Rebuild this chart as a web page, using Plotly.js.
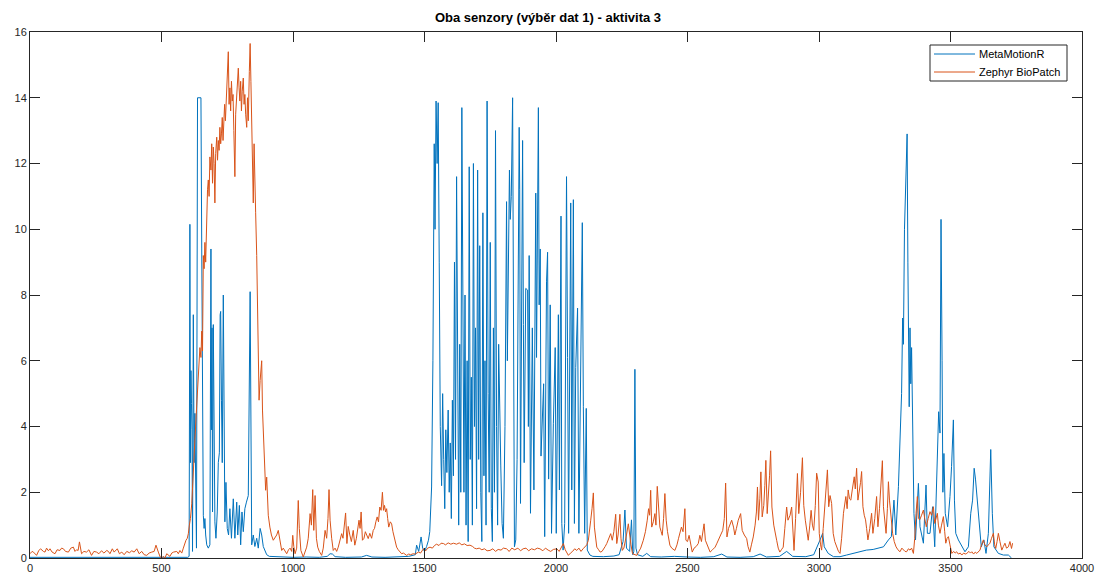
<!DOCTYPE html>
<html>
<head>
<meta charset="utf-8">
<script src="https://cdn.plot.ly/plotly-3.0.1.min.js"></script>
<style>html,body{margin:0;padding:0;background:#fff;}#chart{width:1096px;height:578px;}</style>
</head>
<body>
<div id="chart"></div>
<script>
const seriesNames = ["MetaMotionR", "Zephyr BioPatch"];
const xTicks = [0, 500, 1000, 1500, 2000, 2500, 3000, 3500, 4000];
const yTicks = [0, 2, 4, 6, 8, 10, 12, 14, 16];

// MetaMotionR readings [sample, value]
const metaMotion = [
[0,0.02],[100,0.02],[200,0.03],[300,0.02],[400,0.02],[500,0.03],[600,0.02],[605,0.05],
[608,10.15],[610,2.9],[612,5.7],[614,4.7],[616,3.9],[618,0.2],[621,7.4],[624,2.9],[627,4.4],[630,2.5],[633,0.3],[637,14.0],[650,14.0],[653,9.4],[656,4.1],[659,1.3],[662,0.9],[665,1.2],[668,0.7],[672,0.4],[678,0.3],[684,0.4],[688,9.4],[690,3.9],[692,7.0],[694,1.4],[697,7.1],[700,1.9],[703,1.1],[707,0.6],[712,1.4],[716,2.9],[720,3.2],[723,7.4],[725,7.5],[728,4.8],[731,2.9],[735,8.0],[738,2.4],[741,1.1],[745,2.3],[750,0.9],[755,0.7],[760,1.5],[766,0.6],[773,1.8],[779,0.6],[786,1.7],[790,0.7],[796,1.6],[801,0.4],[806,1.4],[811,0.8],[817,1.5],[823,1.7],[830,1.9],[837,8.1],[840,0.9],[843,0.4],[849,0.7],[855,0.35],[862,0.6],[868,0.3],[875,0.9],[881,0.7],[887,0.35],[893,0.2],[900,0.1],[910,0.05],[950,0.03],[1000,0.02],[1050,0.03],[1100,0.02],[1130,0.05],[1141,0.13],[1150,0.12],[1160,0.04],[1200,0.02],[1260,0.03],[1280,0.08],[1300,0.03],[1350,0.02],[1400,0.04],[1440,0.05],[1465,0.1],[1470,0.39],[1478,0.2],[1487,0.64],[1493,0.3],[1500,0.2],[1508,0.35],[1515,0.54],[1520,0.8],[1527,2.16],
[1532,6.0],[1537,12.6],[1540,10.0],[1544,13.9],[1548,12.0],[1552,13.85],[1556,9.0],[1560,4.0],[1565,2.2],[1569,5.0],[1573,3.0],[1577,1.5],[1581,3.9],[1585,2.6],[1590,4.5],[1594,2.0],[1598,3.5],[1602,1.2],[1606,4.8],[1610,2.5],[1614,9.0],[1618,3.0],[1622,11.6],[1626,4.0],[1630,1.0],[1634,6.5],[1638,2.0],[1642,13.7],[1646,5.0],[1650,2.0],[1654,8.0],[1658,1.0],[1662,6.0],[1666,0.5],[1670,11.9],[1674,3.0],[1678,5.5],[1682,1.0],[1686,12.0],[1690,4.0],[1694,7.0],[1698,1.5],[1702,11.8],[1706,3.0],[1710,9.5],[1714,2.0],[1718,0.5],[1722,10.5],[1726,2.5],[1730,6.0],[1734,1.0],[1738,13.9],[1742,5.0],[1746,2.0],[1750,9.6],[1754,1.5],[1758,0.5],[1762,7.0],[1766,2.0],[1770,13.0],[1774,4.0],[1778,1.0],[1782,6.5],[1787,3.5],[1790,2.8],[1795,1.05],
[1800,0.6],[1806,4.0],[1812,10.84],[1815,6.0],[1818,8.0],[1823,11.8],[1826,10.3],[1830,11.0],[1835,14.0],[1838,7.1],[1842,0.34],[1847,0.55],[1852,3.0],[1860,13.1],[1862,11.2],[1865,1.66],[1873,12.7],[1876,7.1],[1879,2.9],[1885,8.2],[1892,8.15],[1895,4.0],[1898,9.2],[1903,1.36],[1910,7.0],[1916,2.07],[1923,11.1],[1926,6.1],[1933,13.7],[1936,7.7],[1940,9.4],[1943,3.1],[1949,4.55],[1953,5.3],[1957,0.65],[1964,8.4],[1968,9.3],[1972,2.4],[1978,7.7],[1983,0.75],[1990,4.1],[1997,6.4],[2001,0.75],[2009,7.4],[2013,2.07],[2019,10.4],[2022,1.05],[2027,0.24],[2033,1.05],[2040,11.6],[2044,6.1],[2048,0.75],[2056,10.8],[2060,2.07],[2066,10.9],[2070,1.05],[2075,5.8],[2082,7.6],[2087,0.75],[2092,4.1],[2100,10.2],[2104,4.6],[2109,0.75],[2115,4.55],[2119,0.24],[2129,0.09],[2140,0.05],[2180,0.04],[2220,0.06],[2240,0.1],[2255,0.5],[2262,1.46],[2268,0.3],[2280,0.2],[2287,1.16],[2292,0.1],[2296,0.2],[2300,5.74],[2304,0.3],[2310,0.1],[2330,0.05],[2345,0.14],[2360,0.04],[2400,0.03],[2450,0.05],[2500,0.03],[2550,0.02],[2600,0.04],[2630,0.12],[2650,0.03],[2700,0.02],[2750,0.04],[2776,0.12],[2800,0.03],[2850,0.05],[2877,0.2],[2900,0.05],[2950,0.04],[2980,0.1],
[3004,0.55],[3014,0.75],[3020,0.34],[3035,0.14],[3055,0.04],[3080,0.04],[3105,0.09],[3130,0.14],[3156,0.19],[3180,0.24],[3206,0.26],[3225,0.29],[3245,0.34],[3264,0.55],[3275,0.65],[3285,1.76],[3292,0.7],[3302,2.17],[3308,3.39],[3314,5.0],[3318,7.3],[3321,6.5],[3325,10.0],[3330,12.0],[3335,12.9],[3338,9.0],[3340,6.2],[3343,4.6],[3346,7.0],[3349,5.3],[3352,6.4],[3356,4.0],[3361,1.36],[3367,0.55],[3378,2.27],[3384,0.95],[3397,0.45],[3407,2.22],[3412,0.75],[3422,0.75],[3432,1.56],[3440,0.34],[3450,3.08],[3455,4.45],[3460,3.8],[3464,10.3],[3468,6.0],[3471,2.0],[3475,3.18],[3480,1.36],[3489,0.95],[3498,1.87],[3504,2.78],[3511,4.2],[3515,1.76],[3520,0.75],[3530,0.55],[3543,0.34],[3555,0.19],[3568,0.34],[3577,1.36],[3584,1.76],[3590,2.73],[3595,2.4],[3602,1.76],[3609,0.95],[3617,0.34],[3627,0.55],[3635,0.14],[3644,0.75],[3653,3.3],[3659,1.36],[3665,0.34],[3682,0.14],[3701,0.09],[3720,0.09],[3732,0.0]
];

// Zephyr BioPatch readings [sample, value]
const zephyr = [
[0,0.13],[8,0.2],[13,0.18],[20,0.1],[25,0.08],[33,0.22],[40,0.28],[51,0.2],[57,0.18],[63,0.3],[70,0.22],[76,0.28],[84,0.18],[95,0.13],[103,0.25],[114,0.23],[120,0.3],[127,0.28],[135,0.2],[146,0.18],[155,0.3],[165,0.33],[171,0.2],[177,0.25],[183,0.23],[188,0.49],[192,0.3],[196,0.13],[205,0.2],[215,0.18],[224,0.25],[234,0.08],[243,0.2],[253,0.18],[262,0.13],[272,0.22],[281,0.15],[292,0.23],[298,0.2],[304,0.13],[313,0.28],[320,0.18],[332,0.28],[340,0.13],[349,0.18],[358,0.1],[368,0.2],[378,0.16],[387,0.22],[396,0.18],[406,0.28],[415,0.13],[425,0.2],[434,0.1],[444,0.08],[453,0.15],[463,0.18],[472,0.2],[479,0.39],[484,0.3],[488,0.18],[495,0.03],[501,0.0],[507,0.05],[513,0.0],[520,0.13],[526,0.1],[532,0.05],[539,0.15],[546,0.18],[558,0.2],[564,0.13],[570,0.23],[577,0.15],[583,0.3],[588,0.45],[593,0.54],[598,0.6],[602,0.74],
[606,1.0],[610,1.2],[615,1.65],[618,2.2],[621,2.9],[624,3.3],[627,3.6],[631,4.2],[634,4.7],[637,5.0],[640,5.5],[643,6.3],[646,6.4],[650,6.1],[653,6.9],[656,6.3],[659,9.2],[662,8.8],[665,9.6],[668,9.0],[672,10.8],[675,11.2],[678,11.5],[681,11.0],[684,12.2],[688,11.8],[691,12.6],[694,11.4],[697,12.5],[700,12.0],[703,10.8],[706,12.3],[710,12.8],[713,12.1],[716,12.7],[719,12.4],[722,13.1],[725,12.6],[728,12.9],[731,13.4],[734,12.7],[737,13.2],[740,13.8],[743,13.3],[746,13.9],[750,14.2],[754,15.4],[757,13.8],[760,14.3],[763,13.6],[766,14.5],[769,13.9],[772,14.1],[775,13.0],[779,11.6],[782,13.5],[785,14.0],[788,14.6],[792,14.9],[795,14.3],[798,13.9],[801,14.5],[804,13.6],[807,14.2],[811,14.6],[814,13.8],[817,14.1],[820,13.5],[824,13.1],[827,14.0],[830,13.3],[834,14.8],[837,15.65],[840,14.5],[843,13.5],[846,12.5],[849,10.8],[852,12.6],[855,11.0],[858,10.5],[862,9.2],[865,7.5],[868,5.9],[871,4.8],[875,5.4],[878,5.9],[881,6.0],[884,4.5],[887,3.98],[890,3.4],[893,2.5],[896,2.06],[900,2.46],[903,2.0],[906,1.3],[912,0.94],[918,0.7],[925,0.54],[931,0.62],[938,0.7],[944,0.84],[950,0.5],[957,0.23],[963,0.3],[970,0.2],[976,0.13],[983,0.25],[989,0.3],[995,0.2],[999,0.69],[1003,0.35],[1008,0.13],[1014,0.3],[1020,1.75],[1024,0.9],[1030,0.23],[1039,0.03],[1045,0.2],[1052,0.33],[1058,0.6],[1065,1.35],[1070,1.0],[1075,2.08],[1079,0.84],[1084,1.9],[1089,0.6],[1094,0.33],[1100,0.2],[1109,0.08],[1115,0.3],[1122,0.84],[1128,0.6],[1133,1.2],[1137,2.08],[1141,1.15],[1147,0.6],[1153,0.23],[1160,0.3],[1166,0.2],[1172,0.33],[1178,0.5],[1185,0.74],[1190,0.6],[1195,0.9],[1200,1.37],[1205,0.44],[1210,0.96],[1216,0.7],[1222,0.5],[1229,0.84],[1235,0.39],[1241,0.6],[1246,0.9],[1251,1.15],[1255,0.9],[1259,1.4],[1264,0.54],[1270,0.6],[1275,0.8],[1280,0.69],[1286,0.59],[1292,0.75],[1299,0.6],[1305,0.84],[1310,0.9],[1315,1.1],[1320,1.25],[1325,1.1],[1330,1.55],[1335,1.45],[1340,2.0],[1344,1.45],[1348,1.6],[1352,1.4],[1356,1.5],[1360,1.2],[1364,0.94],[1370,1.1],[1375,1.04],[1380,0.8],[1385,0.59],[1390,0.45],[1394,0.33],[1400,0.25],[1406,0.2],[1413,0.13],[1420,0.15],[1426,0.1],[1432,0.08],[1440,0.12],[1447,0.1],[1457,0.13],[1465,0.12],[1477,0.18],[1485,0.15],[1496,0.28],[1505,0.22],[1512,0.3],[1521,0.33],[1530,0.3],[1538,0.38],[1546,0.42],[1555,0.38],[1563,0.45],[1572,0.44],[1580,0.4],[1590,0.46],[1600,0.42],[1610,0.45],[1622,0.42],[1632,0.46],[1642,0.4],[1652,0.43],[1662,0.38],[1673,0.39],[1683,0.35],[1690,0.3],[1698,0.28],[1708,0.3],[1718,0.25],[1728,0.28],[1738,0.22],[1749,0.23],[1760,0.28],[1770,0.2],[1780,0.26],[1791,0.24],[1800,0.3],[1812,0.28],[1822,0.2],[1832,0.3],[1843,0.25],[1855,0.3],[1865,0.22],[1875,0.28],[1886,0.3],[1896,0.22],[1907,0.28],[1918,0.25],[1929,0.3],[1939,0.28],[1950,0.22],[1960,0.3],[1970,0.24],[1980,0.2],[1990,0.26],[2003,0.28],[2012,0.2],[2020,0.3],[2028,0.44],[2035,0.25],[2041,0.15],[2047,0.08],[2055,0.15],[2063,0.2],[2071,0.28],[2079,0.23],[2087,0.3],[2095,0.2],[2103,0.28],[2110,0.33],[2117,0.4],[2123,0.54],[2128,0.8],[2132,1.15],[2137,1.5],[2142,1.98],[2146,0.94],[2150,0.6],[2155,0.33],[2162,0.25],[2168,0.18],[2175,0.2],[2181,0.3],[2187,0.35],[2193,0.44],[2200,0.6],[2208,0.74],[2214,0.54],[2220,0.8],[2227,1.33],[2231,0.44],[2236,0.7],[2243,1.33],[2247,0.6],[2252,0.23],[2258,0.3],[2262,0.44],[2268,0.7],[2275,1.04],[2280,0.69],[2285,0.4],[2291,0.13],[2298,0.1],[2307,0.08],[2315,0.2],[2322,0.3],[2332,0.54],[2340,0.8],[2347,1.15],[2352,1.5],[2356,1.3],[2360,2.06],[2364,0.94],[2370,1.1],[2376,1.35],[2380,1.0],[2385,2.18],[2390,1.4],[2395,0.94],[2400,0.8],[2404,0.69],[2409,1.2],[2414,1.96],[2419,1.15],[2424,0.8],[2433,0.39],[2440,0.3],[2452,0.23],[2460,0.4],[2466,0.6],[2471,0.74],[2477,0.94],[2483,0.8],[2490,1.5],[2494,0.54],[2500,0.5],[2506,0.69],[2512,0.4],[2518,0.18],[2525,0.3],[2533,0.35],[2541,0.44],[2547,0.69],[2553,0.5],[2558,0.8],[2563,1.04],[2568,0.54],[2575,0.4],[2580,0.25],[2586,0.18],[2595,0.25],[2605,0.33],[2612,0.45],[2618,0.54],[2626,0.7],[2634,0.84],[2640,1.2],[2645,2.28],[2650,0.64],[2656,0.9],[2662,1.0],[2668,1.15],[2675,0.94],[2680,0.7],[2686,0.9],[2693,1.15],[2702,1.35],[2708,0.84],[2716,0.7],[2725,0.59],[2730,0.35],[2737,0.18],[2743,0.4],[2750,0.64],[2757,1.0],[2762,1.4],[2766,2.16],[2770,1.15],[2775,1.8],[2779,2.62],[2784,1.25],[2790,1.6],[2794,2.2],[2798,2.97],[2803,1.35],[2808,1.9],[2812,2.5],[2816,3.26],[2821,1.55],[2828,1.0],[2834,0.7],[2839,0.54],[2845,0.3],[2851,0.18],[2857,0.25],[2864,0.33],[2870,0.9],[2877,1.55],[2882,1.15],[2890,1.3],[2896,1.55],[2901,0.8],[2905,0.23],[2911,1.2],[2918,2.57],[2923,1.35],[2930,2.0],[2937,3.05],[2942,1.6],[2948,1.15],[2954,0.8],[2959,0.54],[2965,1.0],[2970,1.45],[2975,1.0],[2980,0.84],[2986,1.6],[2991,2.58],[2997,2.31],[3001,0.75],[3006,0.4],[3010,0.24],[3016,0.9],[3023,1.76],[3028,2.2],[3032,2.68],[3037,1.56],[3042,1.9],[3048,1.66],[3054,0.75],[3060,0.5],[3067,0.34],[3074,0.2],[3080,0.14],[3086,0.6],[3093,1.36],[3098,1.6],[3102,1.87],[3107,1.5],[3111,2.07],[3116,1.8],[3121,1.76],[3127,2.1],[3134,2.47],[3138,2.1],[3143,2.73],[3148,1.76],[3153,2.0],[3158,2.3],[3162,2.63],[3167,1.56],[3172,1.3],[3177,1.16],[3181,0.9],[3186,0.55],[3193,0.9],[3200,1.36],[3205,0.75],[3212,1.2],[3219,1.87],[3224,0.95],[3230,1.5],[3234,2.17],[3241,2.96],[3245,1.56],[3250,1.1],[3255,0.75],[3260,1.5],[3264,2.32],[3268,1.76],[3274,1.2],[3280,0.75],[3286,0.5],[3293,0.34],[3300,0.25],[3308,0.19],[3315,0.3],[3321,0.26],[3327,0.2],[3333,0.19],[3340,0.28],[3346,0.24],[3352,0.3],[3359,0.14],[3364,0.6],[3369,1.36],[3374,1.87],[3378,1.2],[3383,1.16],[3390,1.3],[3397,1.46],[3402,1.2],[3408,0.95],[3415,1.2],[3422,1.41],[3428,1.3],[3435,1.56],[3440,1.05],[3445,1.2],[3450,1.36],[3454,1.0],[3460,0.75],[3466,1.0],[3473,1.26],[3478,0.8],[3482,0.45],[3487,0.6],[3492,0.65],[3498,0.4],[3505,0.14],[3512,0.2],[3518,0.15],[3523,0.19],[3530,0.12],[3537,0.15],[3543,0.09],[3550,0.15],[3556,0.12],[3562,0.14],[3570,0.2],[3576,0.15],[3581,0.19],[3588,0.12],[3594,0.18],[3600,0.14],[3606,0.2],[3612,0.24],[3618,0.4],[3625,0.55],[3631,0.4],[3638,0.34],[3644,0.4],[3650,0.45],[3656,0.6],[3663,0.75],[3668,0.4],[3672,0.29],[3677,0.5],[3682,0.75],[3688,0.5],[3695,0.24],[3701,0.35],[3707,0.45],[3713,0.3],[3720,0.34],[3726,0.5],[3732,0.29],[3736,0.45]
];

const colors = ["#0072BD", "#D95319"];
const font = "Liberation Sans, Arial, Helvetica, sans-serif";

const traces = [metaMotion, zephyr].map((d, i) => ({
  type: "scatter",
  mode: "lines",
  name: seriesNames[i],
  x: d.map(p => p[0]),
  y: d.map(p => p[1]),
  line: {color: colors[i], width: 1},
  showlegend: false
}));

// plot area in pixels: left 30, right 1082, top 32, bottom 558
const PL = 30, PR = 1082, PT = 32, PB = 558;
const px = v => (v - PL) / (PR - PL);
const py = v => (PB - v) / (PB - PT);

// hand-built legend box (MATLAB style)
const legBox = {x0: 930, x1: 1067, y0: 45, y1: 81};
const legRows = [54, 72];
const shapes = [{type: "rect", xref: "paper", yref: "paper",
  x0: px(legBox.x0), x1: px(legBox.x1), y0: py(legBox.y1), y1: py(legBox.y0),
  line: {color: "#262626", width: 1}, fillcolor: "#fff", layer: "above"}];
const annotations = [];
seriesNames.forEach((n, i) => {
  shapes.push({type: "line", xref: "paper", yref: "paper",
    x0: px(934), x1: px(975), y0: py(legRows[i]), y1: py(legRows[i]),
    line: {color: colors[i], width: 1}, layer: "above"});
  annotations.push({xref: "paper", yref: "paper", x: px(977), y: py(legRows[i]),
    xanchor: "left", yanchor: "middle", showarrow: false, text: n,
    font: {family: font, size: 11, color: "#000"}});
});

const axisCommon = {
  showline: true, mirror: "ticks", linecolor: "#262626", linewidth: 1,
  ticks: "inside", ticklen: 10, tickwidth: 1, tickcolor: "#262626",
  showgrid: false, zeroline: false,
  tickfont: {family: font, size: 11, color: "#262626"}
};

const layout = {
  width: 1096, height: 578,
  margin: {l: PL, r: 1096 - PR, t: PT, b: 578 - PB},
  paper_bgcolor: "#fff", plot_bgcolor: "#fff",
  title: {text: "Oba senzory (výběr dat 1) - aktivita 3", x: 0.5, xanchor: "center", y: 0.969, yanchor: "middle",
          font: {family: font, size: 13, color: "#000", weight: "bold"}},
  xaxis: Object.assign({}, axisCommon, {range: [0, 4000], tickvals: xTicks, ticktext: xTicks.map(String)}),
  yaxis: Object.assign({}, axisCommon, {range: [0, 16], tickvals: yTicks, ticktext: yTicks.map(String)}),
  showlegend: false,
  shapes: shapes,
  annotations: annotations
};

Plotly.newPlot("chart", traces, layout, {displayModeBar: false, staticPlot: true});
</script>
</body>
</html>
